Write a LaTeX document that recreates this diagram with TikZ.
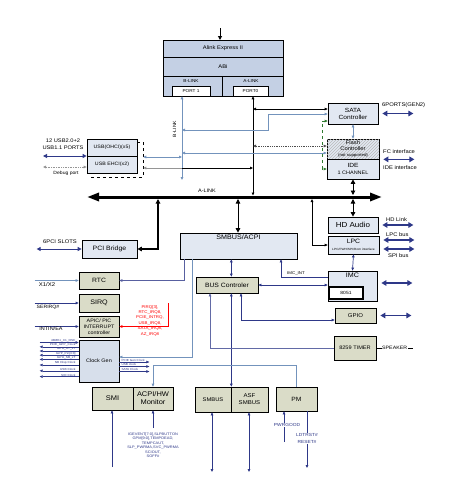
\documentclass[tikz,border=0pt]{standalone}
\usepackage{fontspec}
\setmainfont{Liberation Sans}[FakeStretch=1.1]
\usetikzlibrary{arrows.meta,patterns}

\definecolor{alinkblue}{HTML}{C4D0E4}
\definecolor{boxblue}{HTML}{E2E8F2}
\definecolor{boxkhaki}{HTML}{DADCC8}
\definecolor{clkblue}{HTML}{D7DFEB}
\definecolor{sbnavy}{HTML}{2E3888}
\definecolor{sbsteel}{HTML}{7393BC}
\definecolor{sbgray}{HTML}{959595}
\definecolor{sbgreen}{HTML}{2F7A2F}
\newcommand{\sbsize}[2]{\fontsize{#1}{#2}\selectfont}

\begin{document}
\begin{tikzpicture}[x=1pt, y=-1pt,
    >={Triangle[length=3pt,width=2.6pt]},
    bb/.style={draw, line width=0.7pt, fill=boxblue, inner sep=0pt, align=center, font=\sbsize{5.5}{6.5}},
    kb/.style={bb, fill=boxkhaki},
    lbl/.style={inner sep=0pt, align=center, font=\sbsize{5.3}{6.5}},
    clklbl/.style={inner sep=0.3pt, text=sbnavy, font=\sbsize{2.9}{3}},
    nv/.style={draw=sbnavy, line width=0.7pt},
    st/.style={draw=sbsteel, line width=0.7pt},
    gy/.style={draw=sbgray, line width=0.7pt},
    bk/.style={draw=black, line width=0.7pt},
    fat/.style={draw=sbnavy, line width=1.6pt, {Triangle[length=5pt,width=5.5pt]}-{Triangle[length=5pt,width=5.5pt]}},
    thk/.style={draw=black, line width=1.3pt, {Triangle[length=4.5pt,width=4.5pt]}-{Triangle[length=4.5pt,width=4.5pt]}}]

    \useasboundingbox (0,0) rectangle (471,488);

    % Alink Express II
    \node[draw, line width=0.7pt, fill=alinkblue, minimum width=120, minimum height=56, inner sep=0pt, anchor=north west] (alink) at (163,40) {};
    \draw[line width=0.5pt] (163,57) -- (283,57) (163,76) -- (283,76) (222,76) -- (222,96);
    \node[lbl] at (223,48.5) {Alink Express II};
    \node[lbl] at (223,66.5) {ABi};
    \node[lbl, font=\sbsize{4.3}{5}] at (191,81) {B-LINK};
    \node[lbl, font=\sbsize{4.3}{5}] at (251,81) {A-LINK};
    \node[draw, fill=white, line width=0.5pt, minimum width=38, minimum height=10, inner sep=0pt, font=\sbsize{4.3}{5}] (port1) at (191,91) {PORT 1};
    \node[draw, fill=white, line width=0.5pt, minimum width=35, minimum height=10, inner sep=0pt, font=\sbsize{4.3}{5}] (port0) at (250.5,91) {PORT0};

    % blue blocks
    \node[draw, dashed, line width=0.6pt, minimum width=52, minimum height=35, inner sep=0pt] (usbsh) at (117,159.5) {};
    \node[bb, minimum width=50, minimum height=17, font=\sbsize{4.8}{6}] (ohci) at (112,147.5) {USB(OHCI)(x5)};
    \node[bb, minimum width=50, minimum height=17, font=\sbsize{4.8}{6}] (ehci) at (112,164.5) {USB EHCI(x2)};
    \node[bb, minimum width=50, minimum height=21, font=\sbsize{6}{7}] (sata) at (353,113.5) {SATA\\Controller};
    \node[bb, minimum width=52, minimum height=20, font=\sbsize{5.3}{5.8}, postaction={pattern=north east lines, pattern color=gray!55}] (flash) at (353,149) {Flash\\Controller\\{\sbsize{4}{4.5}(not supported)}};
    \node[bb, minimum width=52, minimum height=20] (ide) at (353,169) {{\sbsize{6}{7}IDE}\\{\sbsize{5}{6}1 CHANNEL}};
    \node[bb, minimum width=50, minimum height=16, font=\sbsize{7.3}{8}] (hda) at (353,225) {HD Audio};
    \node[bb, minimum width=51, minimum height=18] (lpc) at (353.5,245) {{\sbsize{6.3}{6.5}LPC}\\{\sbsize{3}{4}LPC/FWH/SPI/Rom interface}};
    \node[bb, minimum width=49, minimum height=30] (imc) at (352.5,286) {};
    \node[lbl, font=\sbsize{6.5}{7}, anchor=north] at ([yshift=-2pt]imc.north) {IMC};
    \node[draw, fill=white, line width=1.1pt, minimum width=34, minimum height=12, inner sep=0pt, font=\sbsize{4.5}{5}] (cpu8051) at (346,293) {8051};
    \node[bb, minimum width=55, minimum height=18, font=\sbsize{6.3}{7}] (pci) at (109.5,249) {PCI Bridge};
    \node[bb, minimum width=117, minimum height=26] (acpi) at (238.5,246) {};
    \node[lbl, font=\sbsize{6.5}{7}, anchor=north] at ([yshift=-2pt]acpi.north) {SMBUS/ACPI};
    \node[bb, fill=clkblue, minimum width=40, minimum height=42, font=\sbsize{5}{6}] (clk) at (99,361) {Clock Gen};

    % khaki blocks
    \node[kb, minimum width=62, minimum height=16, font=\sbsize{6.2}{7}] (busc) at (227,285) {BUS Controler};
    \node[kb, minimum width=40, minimum height=17, font=\sbsize{6.2}{7}] (rtc) at (99,280.5) {RTC};
    \node[kb, minimum width=40, minimum height=18, font=\sbsize{6.5}{7}] (sirq) at (99,303) {SIRQ};
    \node[kb, minimum width=40, minimum height=21, font=\sbsize{4.9}{6.2}] (apic) at (99,326.5) {APIC/ PIC\\INTERRUPT\\controller};
    \node[kb, minimum width=41, minimum height=15, font=\sbsize{5.5}{6}] (gpio) at (355.5,315.5) {GPIO};
    \node[kb, minimum width=42, minimum height=24, font=\sbsize{5.1}{6}] (timer) at (355,348) {8259 TIMER};
    \node[kb, minimum width=41, minimum height=23, font=\sbsize{6.8}{7}] (smi) at (112.5,398.5) {SMI};
    \node[kb, minimum width=40, minimum height=23, font=\sbsize{6.8}{8}] (mon) at (153,398.5) {ACPI/HW\\Monitor};
    \node[kb, minimum width=36, minimum height=25, font=\sbsize{5.3}{7}] (smb) at (213,399.5) {SMBUS};
    \node[kb, minimum width=37, minimum height=25, font=\sbsize{5.5}{7}] (asf) at (249.5,399.5) {ASF\\SMBUS};
    \node[kb, minimum width=41, minimum height=24, font=\sbsize{6.1}{7}] (pm) at (296.5,399) {PM};

    % A-LINK bus
    \coordinate (busL) at (87,197);
    \coordinate (busR) at (382,197);
    \draw[line width=3pt, {Triangle[length=12pt,width=8pt]}-{Triangle[length=12pt,width=8pt]}] (busL) -- (busR);
    \node[lbl, font=\sbsize{5}{6}] at (207,191) {A-LINK};

    \coordinate (alinkin) at (220,28);
    \draw[bk, line width=1pt, {Triangle[length=4pt,width=4pt]}-] (alinkin |- alink.north) -- (alinkin);

    % B-LINK and A-LINK ports
    \coordinate (bbot) at (182,180);
    \draw[st, <->] (port1.south -| bbot) -- (bbot);
    \node[lbl, rotate=90, font=\sbsize{4.6}{5}] at (174.5,129) {B-LINK};
    \coordinate (abus) at (253,195.5);
    \draw[bk, <->] (port0.south -| abus) -- (abus);

    \coordinate (j1) at (253,109);
    \coordinate (j2) at (253,146);
    \coordinate (j3) at (253,168);
    \coordinate (b1) at (182,130);
    \coordinate (b2) at (182,153);
    \coordinate (b3) at (182,157);
    \coordinate (sk) at (268,114);
    \coordinate (g1) at (322,121);
    \coordinate (g2) at (322,169);
    \draw[bk, <->] (j1) -- (j1 -| sata.west);
    \draw[st, <->] (b1) -| (sk) -- (sk -| sata.west);
    \draw[draw=sbgreen, dashed, line width=0.7pt, <->] (g1 -| sata.west) -- (g1) -- (g2) -- (g2 -| ide.west);
    \draw[draw=black!70, densely dotted, line width=0.8pt, <->] (j2) -- (j2 -| flash.west);
    \draw[st, <->] (b2) -- (b2 -| flash.west);
    \draw[st, <->] (usbsh.east |- b3) -- (b3);
    \draw[gy, <-] (usbsh.east |- j3) -- (j3 -| bbot);
    \draw[bk, ->] (j3 -| bbot) -- (j3);
    \draw[st, <->] (sata.south) -- (flash.north);

    % USB ports
    \node[lbl, font=\sbsize{5.2}{6.6}] at (63,144) {12 USB2.0+2\\USB1.1 PORTS};
    \coordinate (usbL1) at (43,156);
    \coordinate (usbL2) at (43,167);
    \draw[nv, line width=1pt, {Triangle[length=4pt,width=4pt]}-{Triangle[length=4pt,width=4pt]}] (usbL1) -- (usbL1 -| ohci.west);
    \draw[gy, densely dotted, line width=0.8pt, <->] (usbL2) -- (usbL2 -| ehci.west);
    \node[lbl, font=\sbsize{4.6}{5}] at (66,173) {Debug port};

    % right side interfaces
    \foreach \a/\dy in {sata.east/0, flash.south east/0, hda.east/0, lpc.east/5, lpc.east/-4, imc.east/3, gpio.east/0}{
        \draw[fat] ([xshift=4pt,yshift=\dy pt]\a) -- ++(31,0);
    }
    \node[lbl, anchor=west] at (382,105) {6PORTS(GEN2)};
    \node[lbl, anchor=west] at (383,152) {FC interface};
    \node[lbl, anchor=west] at (383,168) {IDE interface};
    \node[lbl, anchor=west] at (386,220) {HD Link};
    \node[lbl, anchor=west] at (386,235) {LPC bus};
    \node[lbl, anchor=west] at (388,255.5) {SPI bus};

    % taps on the bus
    \coordinate (pcitap) at (158,199);
    \draw[thk, line width=1.6pt] (pci.east) -| (pcitap);
    \node[lbl] at (60,242) {6PCI SLOTS};
    \draw[nv, line width=1pt, {Triangle[length=4pt,width=4pt]}-{Triangle[length=4pt,width=4pt]}] ([xshift=-45pt]pci.west) -- (pci.west);
    \coordinate (acpitap) at (238,199);
    \draw[thk, line width=0.9pt] (acpitap) -- (acpitap |- acpi.north);
    \coordinate (lpctap) at (312,199);
    \draw[bk, <->] (lpctap) |- (lpc.west);
    \coordinate (hdtapa) at (353,199);
    \coordinate (hdtapb) at (353,195);
    \draw[thk, line width=0.9pt] (hdtapa) -- (hda.north);
    \draw[thk, line width=0.9pt] (hdtapb) -- (ide.south);
    \draw[nv, <->] (lpc.south) -- (imc.north);

    % SMBUS/ACPI and bus controller
    \coordinate (imcint) at (281,277);
    \draw[nv, ->] (imcint -| imc.west) -- (imcint) -- (imcint |- acpi.south);
    \node[lbl, font=\sbsize{4}{5}, anchor=south] at (296,275.5) {IMC\_INT};
    \draw[nv, <->] (busc.east) -- (busc.east -| imc.west);
    \draw[nv, <->] (acpi.south -| smb.north east) -- (busc.north -| smb.north east);
    \draw[nv, <->] (busc.south -| smb.north east) -- (smb.north east);
    \coordinate (gpiol) at (241,320);
    \draw[nv, <->] (busc.south -| gpiol) -- (gpiol) -- (gpiol -| gpio.west);
    \coordinate (timl) at (210,348);
    \draw[nv, draw=sbnavy!75, ->] (timer.west) -- (timl) -- (timl |- busc.south);
    \coordinate (hl) at (231,365);
    \draw[st, ->] (hl) -| (mon.north);
    \draw[st] (hl) -| (pm.north);
    \coordinate (rtctap) at (184,280.5);
    \draw[nv, draw=sbnavy!80, ->] (acpi.south -| rtctap) |- (rtc.east);
    \coordinate (clktap) at (192,357);
    \draw[st, ->] (acpi.south -| clktap) -- (clktap) -- (clktap -| clk.east);
    \coordinate (spk) at (413,348);
    \draw[bk, line width=0.5pt] (timer.east) -- node[fill=white, inner sep=0.5pt, font=\sbsize{4.8}{5}] {SPEAKER} (spk);

    % left inputs
    \draw[st, ->] ([xshift=-44pt]rtc.west) -- (rtc.west);
    \node[lbl, font=\sbsize{5.4}{6}] at (47,284.5) {X1/X2};
    \draw[nv, line width=0.9pt, ->] ([xshift=-44pt]sirq.west) -- (sirq.west);
    \node[lbl, font=\sbsize{4.7}{5}] at (48,307) {SERIRQ\#};
    \draw[nv, line width=1.2pt, ->] ([xshift=-44pt]apic.west) -- (apic.west);
    \node[lbl, font=\sbsize{5}{5}] at (51,328.5) {INTIN/EA};
    \coordinate (irqtop) at (168,303);
    \draw[draw=red, line width=0.6pt, ->] (irqtop) |- (apic.east);
    \node[text=red, align=center, inner sep=0pt, font=\sbsize{4}{5.4}] at (150,320.5) {PIRQ[3],\\RTC\_IRQ8,\\PCIE\_INTRQ,\\USB\_IRQ8,\\SATA\_IRQ8,\\AZ\_IRQ8};

    % clock lines
    \draw[nv, line width=0.6pt, ->] ([xshift=-39pt]clk.west |- 0,342.5) -- (clk.west |- 0,342.5);
    \node[clklbl, anchor=south east] at (76,342.5) {48MHz\_X1\_OSC};
    \foreach \y/\t in {346.8/PCIE\_GPP\_Clock, 351/GPU\_HT\_xT, 355.2/GPP\_Pin[3:0], 359.4/GPU\_SB\_xT, 365/NB Disp Clock, 370.8/USB Clock, 376.6/SIO Clock}{
        \draw[nv, line width=0.6pt, ->] (clk.west |- 0,\y) -- ++(-39,0);
        \node[clklbl, anchor=south east] at (76,\y) {\t};
    }
    \foreach \y/\t in {362/PCIE Gen Clock, 366.5/USB clock, 371.5/SATA Clock}{
        \draw[nv, line width=0.6pt, ->] (clk.east |- 0,\y) -- ++(30,0);
        \node[clklbl, anchor=south west] at (121,\y) {\t};
    }

    % bottom signals
    \coordinate (smiin) at (112,467);
    \draw[nv, ->] (smiin) -- (smiin |- smi.south);
    \coordinate (monin) at (153,428);
    \draw[nv, ->] (monin) -- (mon.south);
    \node[text=sbnavy, align=center, inner sep=0pt, font=\sbsize{3.6}{4.5}] at (153,445) {IGEVENT[7:0],SLPBUTTON\\GPM[9:0],TEMPDEAD,\\TEMPCAUT,\\SLP\_PWRMA,SVC\_PWRMA\\SCIOUT,\\SOFF\#};
    \coordinate (smbout) at (212,472);
    \draw[nv, <->] (smb.south -| smbout) -- (smbout);
    \coordinate (asfout) at (249,472);
    \draw[nv, <->] (asf.south -| asfout) -- (asfout);
    \coordinate (pwin) at (284,442);
    \draw[nv, ->] (pwin) -- (pwin |- pm.south);
    \node[fill=white, inner sep=0.6pt, text=sbnavy, font=\sbsize{4.4}{5}] at (287,425) {PWRGOOD};
    \coordinate (rstout) at (307,468);
    \draw[nv, ->] (pm.south -| rstout) -- (rstout);
    \node[fill=white, inner sep=0.6pt, text=sbnavy, align=center, font=\sbsize{4.4}{7.5}] at (307,438.5) {LDTRST\#\\RESET\#};
\end{tikzpicture}
\end{document}
